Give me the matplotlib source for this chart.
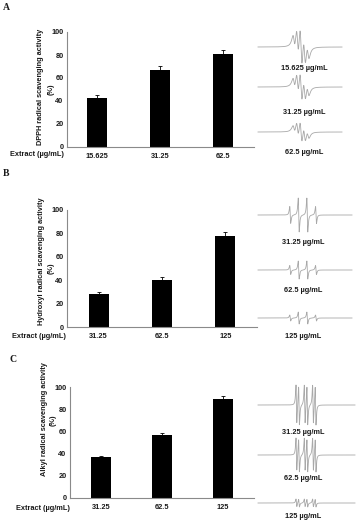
import numpy as np
import matplotlib.pyplot as plt

plt.rcParams['font.family'] = ['Liberation Sans', 'DejaVu Sans']
plt.rcParams['font.weight'] = 'bold'

W, H = 360, 528

# bar data
dpph_conc = ['15.625', '31.25', '62.5']
dpph_act = [42.5, 67, 81]
dpph_err = [2.5, 3, 3]

oh_conc = ['31.25', '62.5', '125']
oh_act = [28, 40.5, 78]
oh_err = [1.5, 2, 3]

alkyl_conc = ['31.25', '62.5', '125']
alkyl_act = [36.5, 56.5, 89]
alkyl_err = [1.5, 2, 3]

# ESR spectra: line offsets (px along field), relative intensities, scale per trace
dpph_lines = [-7, -3.5, 0, 3.5, 7]
dpph_int = [1, 2, 3, 2, 1]
dpph_scale = [1.0, 0.75, 0.55]

oh_lines = [-12.8, -4.3, 4.3, 13]
oh_int = [1, 2, 2, 1]
oh_scale = [1.0, 0.53, 0.35]

alkyl_lines = [-9.6, -7.0, -1.3, 1.3, 7.0, 9.6]
alkyl_int = [1, 1, 1, 1, 1, 1]
alkyl_scale = [1.0, 0.85, 0.2]

GRAY = '#a8a8a8'
TXT = '#1a1a1a'
FS = 5.3

fig = plt.figure(figsize=(W / 100, H / 100), dpi=100)


def px_axes(left, right, top, bottom):
    return fig.add_axes([left / W, 1 - bottom / H, (right - left) / W, (bottom - top) / H])


def bar_panel(box, xlim, conc, act, err):
    ax = px_axes(*box)
    x = np.arange(len(conc))
    ax.bar(x, act, width=0.32, color='black', yerr=err,
           error_kw=dict(ecolor='black', elinewidth=0.6, capsize=1.2, capthick=0.6))
    ax.set_xlim(*xlim)
    ax.set_ylim(0, 100)
    ax.set_yticks(range(0, 101, 20))
    ax.set_xticks(x)
    ax.set_xticklabels(conc)
    ax.tick_params(length=0, labelsize=FS, colors=TXT, pad=2.5)
    ax.tick_params(axis='x', pad=4.5)
    for s in ['top', 'right']:
        ax.spines[s].set_visible(False)
    for s in ['left', 'bottom']:
        ax.spines[s].set_color('#8a8a8a')
        ax.spines[s].set_linewidth(0.8)
    ax.patch.set_alpha(0)
    return ax


bar_panel((67, 254, 32, 147), (-0.48, 2.49), dpph_conc, dpph_act, dpph_err)
bar_panel((67, 257, 210, 327), (-0.5, 2.5), oh_conc, oh_act, oh_err)
bar_panel((70, 254, 387, 498), (-0.51, 2.51), alkyl_conc, alkyl_act, alkyl_err)

# overlay in pixel coordinates for spectra and labels
ov = fig.add_axes([0, 0, 1, 1])
ov.set_xlim(0, W)
ov.set_ylim(H, 0)
ov.axis('off')
ov.patch.set_alpha(0)


def deriv(x, pos, inten, w):
    y = np.zeros_like(x)
    for p, a in zip(pos, inten):
        u = (x - p) / w
        y += a * (-u) / (1 + u ** 2) ** 2 / 0.325
    return y


def spectra(x0, x1, center, lines, inten, w, scales, amp, bases, lab_y, lab_x, labels):
    xs = np.linspace(x0, x1, 3000)
    shape = deriv(xs, [center + p for p in lines], inten, w)
    shape = shape / np.abs(shape).max()
    for sc, b, ly, lab in zip(scales, bases, lab_y, labels):
        ov.plot(xs, b - amp * sc * shape, color=GRAY, lw=0.6)
        ov.text(lab_x, ly, lab + ' \u00b5g/mL', ha='center', va='center',
                fontsize=FS, color=TXT)


spectra(258, 342, 301, dpph_lines, dpph_int, 2.0, dpph_scale, 16,
        [47, 87, 132], [69, 113, 152], 304, dpph_conc)
spectra(258, 352, 303, oh_lines, oh_int, 0.8, oh_scale, 17,
        [215, 270, 318], [243, 290, 337], 303, oh_conc)
spectra(258, 355, 306, alkyl_lines, alkyl_int, 0.7, alkyl_scale, 20,
        [405, 455, 503], [432, 478, 516], 303, alkyl_conc)

# panel letters
for letter, (lx, ly) in zip('ABC', [(3, 8), (3, 173), (9, 359)]):
    ov.text(lx, ly, letter, fontsize=7, family='Liberation Serif',
            fontweight='bold', color=TXT, va='center', ha='left')

# y labels
ylabels = ['DPPH radical scavenging activity', 'Hydroxyl radical scavenging activity',
           'Alkyl radical scavenging activity']
for lab, (yx, yy), (px, py) in zip(ylabels, [(40, 87), (42, 261), (44, 419)],
                                   [(51, 89.5), (51, 268.5), (53, 420)]):
    ov.text(yx, yy, lab, rotation=90, ha='center', va='center',
            fontsize=FS, color=TXT)
    ov.text(px, py, '(%)', rotation=90, ha='center', va='center',
            fontsize=FS, color=TXT)

# x axis row titles
for (ex, ey) in [(10, 155), (12, 337), (16, 508)]:
    ov.text(ex, ey, 'Extract (\u00b5g/mL)', ha='left', va='center',
            fontsize=FS, color=TXT)

fig.savefig('out.png', dpi=100, facecolor='white')
